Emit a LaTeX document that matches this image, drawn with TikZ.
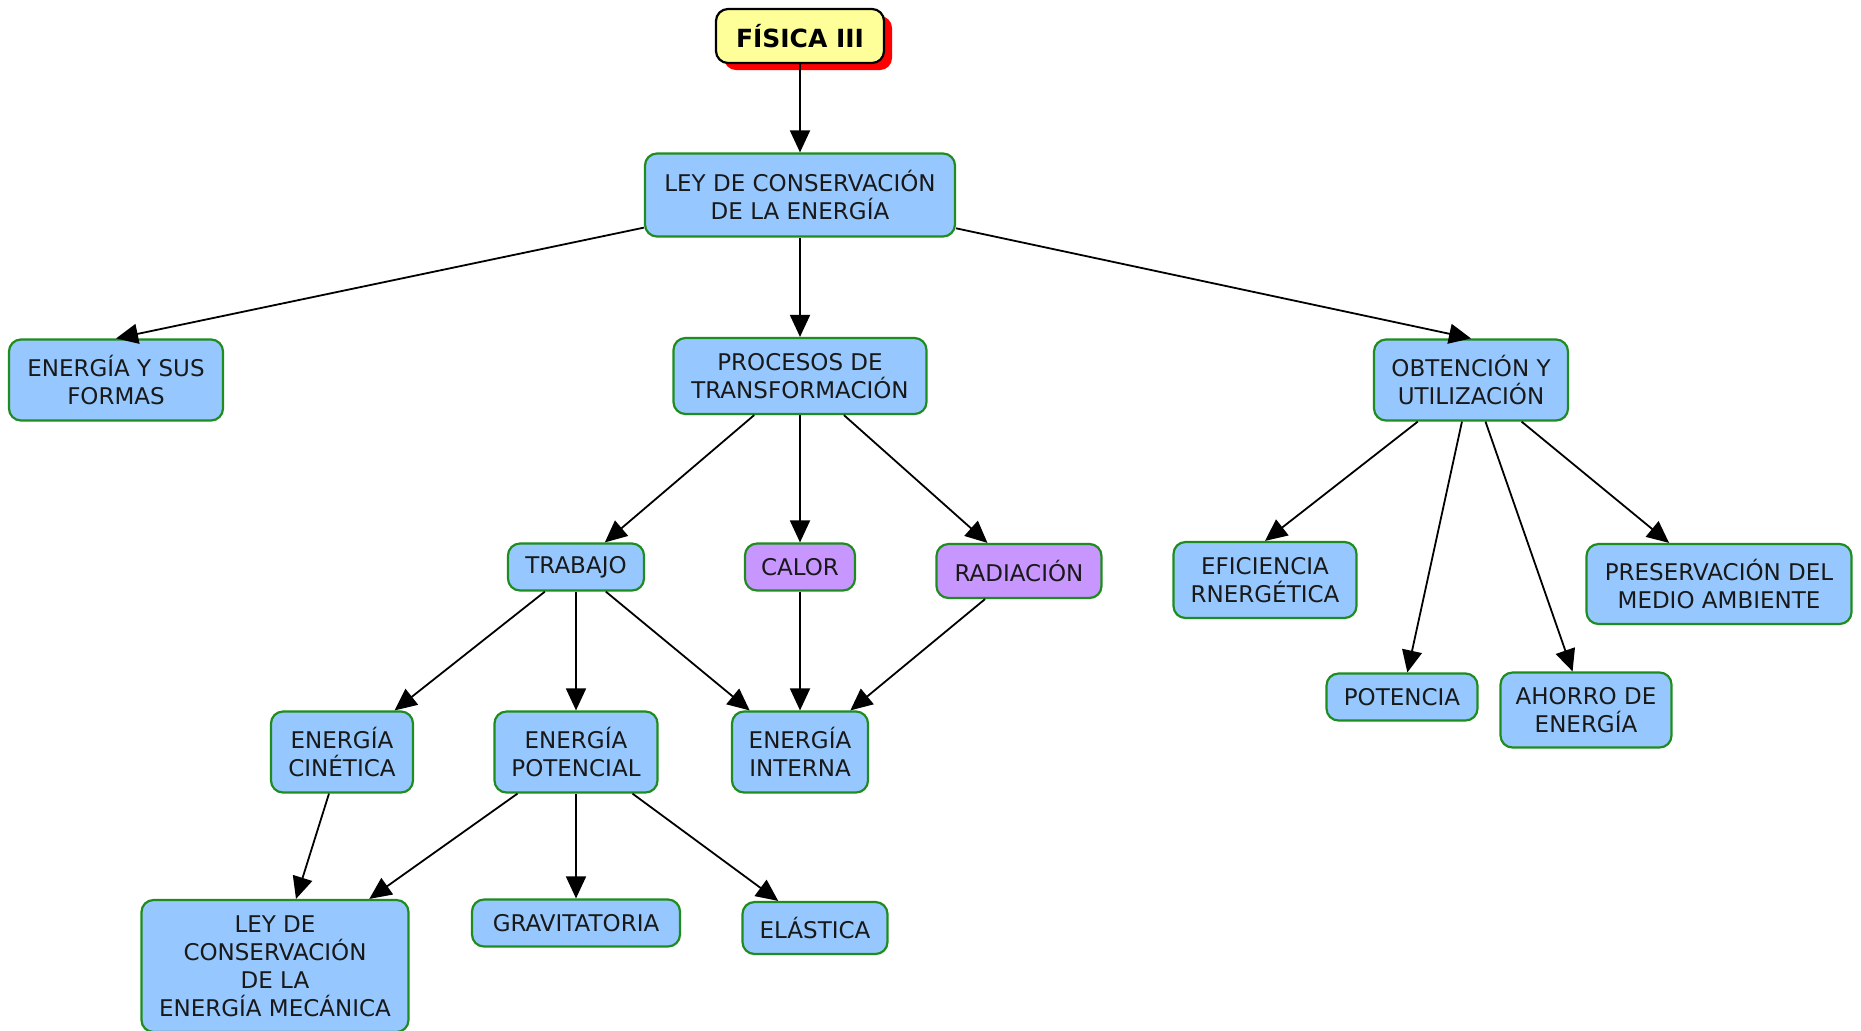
\documentclass[tikz,border=0pt]{standalone}
\usepackage{fontspec}
\setmainfont{DejaVu Sans}
\usetikzlibrary{arrows.meta,shadows}
\definecolor{cblue}{HTML}{96C8FF}
\definecolor{cpurple}{HTML}{C896FF}
\definecolor{cyellow}{HTML}{FFFF99}
\definecolor{cgreen}{HTML}{1F8C1F}
\begin{document}
\begin{tikzpicture}[x=0.5pt,y=-0.5pt,
  box/.style={draw=cgreen,line width=1.1pt,fill=cblue,rounded corners=6pt,inner sep=0pt,
    align=center,font=\fontsize{11.5}{14}\selectfont,text=black!90},
  pbox/.style={box,fill=cpurple},
  titlebox/.style={draw=black,line width=1.1pt,fill=cyellow,rounded corners=6pt,inner sep=0pt,
    font=\fontsize{12.5}{15}\bfseries\selectfont,
    drop shadow={shadow xshift=4pt,shadow yshift=-3.5pt,fill=red,opacity=1}},
  arr/.style={line width=0.9pt,-{Triangle[length=11pt,width=10pt]}}]
\clip (0,0) rectangle (1861,1030);
\fill[white] (0,0) rectangle (1861,1030);

\node[titlebox,minimum width=84pt,minimum height=27pt] (fis) at (800,36) {FÍSICA III};
\node[box,minimum width=155pt,minimum height=41.5pt] (ley) at (800,195) {LEY DE CONSERVACIÓN\\DE LA ENERGÍA};
\node[box,minimum width=107pt,minimum height=40.5pt] (efor) at (116,380) {ENERGÍA Y SUS\\FORMAS};
\node[box,minimum width=126.5pt,minimum height=38pt] (proc) at (800,376) {PROCESOS DE\\TRANSFORMACIÓN};
\node[box,minimum width=97pt,minimum height=40.5pt] (obt) at (1471,380) {OBTENCIÓN Y\\UTILIZACIÓN};
\node[box,minimum width=68pt,minimum height=23.5pt] (trab) at (576,567) {TRABAJO};
\node[pbox,minimum width=55pt,minimum height=23.5pt] (calor) at (800,567) {CALOR};
\node[pbox,minimum width=82.5pt,minimum height=27pt] (rad) at (1019,571) {RADIACIÓN};
\node[box,minimum width=91.5pt,minimum height=38pt] (efic) at (1265,580) {EFICIENCIA\\RNERGÉTICA};
\node[box,minimum width=132.5pt,minimum height=40pt] (pres) at (1719,584) {PRESERVACIÓN DEL\\MEDIO AMBIENTE};
\node[box,minimum width=75.5pt,minimum height=23.5pt] (pot) at (1402,697) {POTENCIA};
\node[box,minimum width=85.5pt,minimum height=37.5pt] (aho) at (1586,710) {AHORRO DE\\ENERGÍA};
\node[box,minimum width=71pt,minimum height=40.5pt] (cin) at (342,752) {ENERGÍA\\CINÉTICA};
\node[box,minimum width=81.5pt,minimum height=40.5pt] (epot) at (576,752) {ENERGÍA\\POTENCIAL};
\node[box,minimum width=68pt,minimum height=40.5pt] (eint) at (800,752) {ENERGÍA\\INTERNA};
\node[box,minimum width=133.5pt,minimum height=66pt] (lcem) at (275,966) {LEY DE\\CONSERVACIÓN\\DE LA\\ENERGÍA MECÁNICA};
\node[box,minimum width=104pt,minimum height=23.5pt] (grav) at (576,923) {GRAVITATORIA};
\node[box,minimum width=72.5pt,minimum height=26pt] (ela) at (815,928) {ELÁSTICA};

\draw[arr] (fis) -- (ley);
\draw[arr] (ley) -- (efor.north);
\draw[arr] (ley) -- (proc);
\draw[arr] (ley) -- (obt.north);
\draw[arr] (proc) -- (trab);
\draw[arr] (proc) -- (calor);
\draw[arr] (proc) -- (rad);
\draw[arr] (obt) -- (efic.north);
\draw[arr] (obt) -- (pot);
\draw[arr] (obt) -- (aho);
\draw[arr] (obt) -- (pres);
\draw[arr] (trab) -- (cin);
\draw[arr] (trab) -- (epot);
\draw[arr] (trab) -- (eint);
\draw[arr] (calor) -- (eint);
\draw[arr] (rad) -- (eint);
\draw[arr] (cin) -- (lcem);
\draw[arr] (epot) -- (lcem);
\draw[arr] (epot) -- (grav);
\draw[arr] (epot) -- (ela);
\end{tikzpicture}
\end{document}
